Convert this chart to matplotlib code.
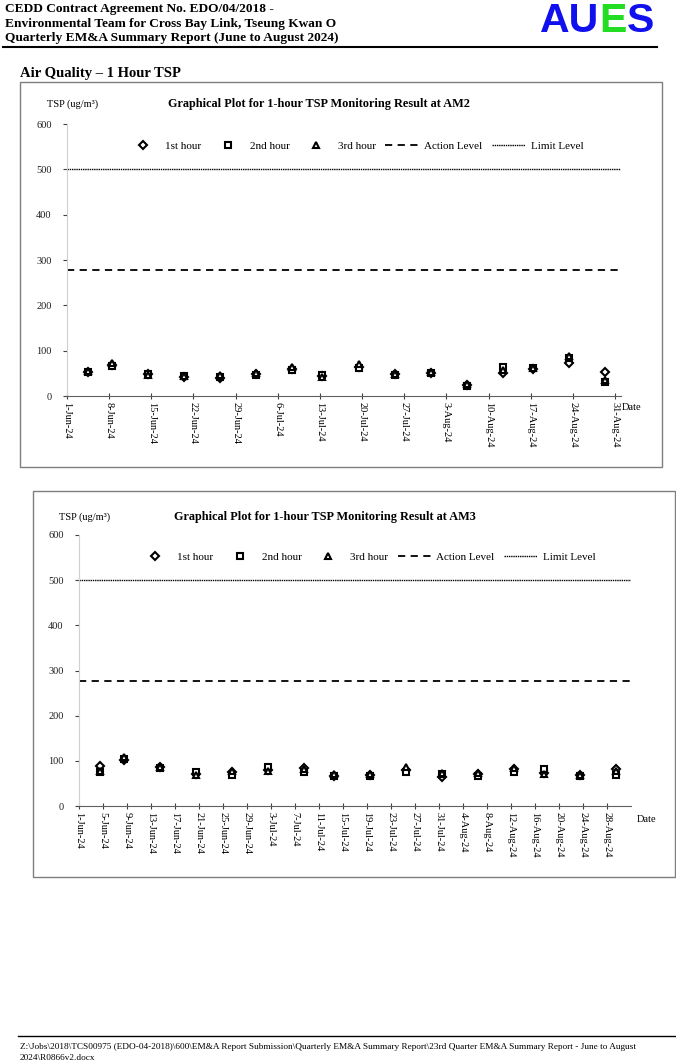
import matplotlib
matplotlib.use("Agg")
import matplotlib.pyplot as plt
import pandas as pd
from matplotlib.patches import Rectangle
from matplotlib.lines import Line2D

plt.rcParams['font.family'] = ['Liberation Serif', 'DejaVu Serif']

# sampling dates (same for both stations)
dates = pd.to_datetime([
    "2024-06-04 10:00", "2024-06-08 10:00", "2024-06-14 10:00", "2024-06-20 10:00",
    "2024-06-26 10:00", "2024-07-02 10:00", "2024-07-08 10:00", "2024-07-13 10:00",
    "2024-07-19 10:00", "2024-07-25 10:00", "2024-07-31 10:00", "2024-08-06 10:00",
    "2024-08-12 10:00", "2024-08-17 10:00", "2024-08-23 10:00", "2024-08-29 10:00"])

am2_1st = [54, 68, 48, 42, 40, 48, 60, 45, 65, 48, 50, 24, 50, 60, 72, 52]
am2_2nd = [53, 67, 49, 45, 43, 47, 57, 47, 61, 47, 50, 23, 65, 61, 83, 31]
am2_3rd = [56, 72, 47, 44, 46, 50, 63, 42, 70, 48, 52, 26, 57, 61, 88, 36]

am3_1st = [88, 102, 86, 70, 76, 80, 84, 67, 68, 80, 65, 70, 82, 72, 68, 82]
am3_2nd = [75, 105, 85, 76, 68, 86, 76, 66, 66, 75, 70, 66, 76, 82, 66, 68]
am3_3rd = [78, 108, 87, 69, 78, 78, 82, 70, 70, 87, 72, 72, 84, 70, 68, 78]

action_level = 277
limit_level = 500

start = pd.Timestamp("2024-06-01")
end = pd.Timestamp("2024-09-01")


def draw_chart(ax, s1, s2, s3, title, step, tx, ty, lx, dx, dy):
    ms = 4.5
    kw = dict(linestyle='none', markerfacecolor='white', markeredgecolor='black',
              markeredgewidth=1.5, clip_on=False)
    ax.plot(dates, s1, marker='D', markersize=ms - 0.7, label='1st hour', **kw)
    ax.plot(dates, s2, marker='s', markersize=ms, label='2nd hour', **kw)
    ax.plot(dates, s3, marker='^', markersize=ms, label='3rd hour', **kw)
    ax.axhline(action_level, color='black', lw=1.3, ls=(0, (4, 3)), label='Action Level')
    ax.axhline(limit_level, color='black', lw=1.0, ls=(0, (1, 0.6)), label='Limit Level')

    ax.set_ylim(0, 600)
    ax.set_yticks(range(0, 601, 100))
    ax.set_xlim(start, end)
    ticks = pd.date_range(start, "2024-08-31", freq=f"{step}D")
    ax.set_xticks(ticks)
    ax.set_xticklabels([f"{d.day}-{d:%b-%y}" for d in ticks], rotation=270,
                       va='top', ha='center', fontsize=7.5)
    ax.tick_params(axis='y', length=3, pad=8, labelsize=7.5, color='#404040',
                   labelcolor='#202020')
    ax.tick_params(axis='x', direction='inout', length=5, pad=2, color='#404040')

    for s in ['top', 'right']:
        ax.spines[s].set_visible(False)
    ax.spines['left'].set_color('#d0d0d0')
    ax.spines['bottom'].set_color('#606060')

    ax.text(-0.036, ty, "TSP (ug/m³)", transform=ax.transAxes, fontsize=7.5,
            ha='left', va='center')
    ax.text(tx, ty, title, transform=ax.transAxes, fontsize=8.8, fontweight='bold',
            ha='center', va='center')
    ax.text(dx, dy, "Date", transform=ax.transAxes, fontsize=7.5,
            ha='left', va='center')
    ax.legend(loc='center', bbox_to_anchor=(lx, 0.919), ncol=5, frameon=False,
              fontsize=8, numpoints=1, handlelength=3.0, handletextpad=0.5,
              columnspacing=0.85)


fig = plt.figure(figsize=(6.76, 10.64), dpi=100)

# page header
fig.text(5 / 676, 1 - 9 / 1064, "CEDD Contract Agreement No. EDO/04/2018 -",
         fontsize=9.6, fontweight='bold', va='center')
fig.text(5 / 676, 1 - 24 / 1064, "Environmental Team for Cross Bay Link, Tseung Kwan O",
         fontsize=9.6, fontweight='bold', va='center')
fig.text(5 / 676, 1 - 38 / 1064, "Quarterly EM&A Summary Report (June to August 2024)",
         fontsize=9.6, fontweight='bold', va='center')
logo_y = 1 - 21 / 1064
t = fig.text(540 / 676, logo_y, "AU", fontsize=29.5, fontweight='bold', color='#1010ee',
             family='Liberation Sans', va='center')
fig.canvas.draw()
bb = t.get_window_extent()
t2 = fig.text(bb.x1 / 676, logo_y, "E", fontsize=29.5, fontweight='bold', color='#22dd22',
              family='Liberation Sans', va='center')
bb2 = t2.get_window_extent()
fig.text(bb2.x1 / 676, logo_y, "S", fontsize=29.5, fontweight='bold', color='#1010ee',
         family='Liberation Sans', va='center')
fig.add_artist(Line2D([3 / 676, 657 / 676], [1 - 47 / 1064] * 2, color='black', lw=1.5))

fig.text(20 / 676, 1 - 74 / 1064, "Air Quality – 1 Hour TSP", fontsize=10.5,
         fontweight='bold', va='center')

# chart frames
fig.add_artist(Rectangle((20 / 676, 1 - 467 / 1064), 642 / 676, 385 / 1064,
                         fill=False, edgecolor='#7f7f7f', lw=1))
fig.add_artist(Rectangle((33 / 676, 1 - 877 / 1064), 642 / 676, 386 / 1064,
                         fill=False, edgecolor='#7f7f7f', lw=1))

ax1 = fig.add_axes([67 / 676, 1 - 396 / 1064, 554 / 676, 272 / 1064])
draw_chart(ax1, am2_1st, am2_2nd, am2_3rd,
           "Graphical Plot for 1-hour TSP Monitoring Result at AM2",
           7, 0.455, 1.074, 0.52, 1.002, -0.044)

ax2 = fig.add_axes([79 / 676, 1 - 806 / 1064, 552 / 676, 271 / 1064])
draw_chart(ax2, am3_1st, am3_2nd, am3_3rd,
           "Graphical Plot for 1-hour TSP Monitoring Result at AM3",
           4, 0.446, 1.066, 0.522, 1.011, -0.048)

# page footer
fig.add_artist(Line2D([18 / 676, 676 / 676], [1 - 1036 / 1064] * 2, color='black', lw=1))
fig.text(20 / 676, 1 - 1047 / 1064,
         r"Z:\Jobs\2018\TCS00975 (EDO-04-2018)\600\EM&A Report Submission\Quarterly EM&A Summary Report\23rd Quarter EM&A Summary Report - June to August",
         fontsize=6.7, va='center')
fig.text(20 / 676, 1 - 1058 / 1064, r"2024\R0866v2.docx", fontsize=6.7, va='center')

fig.savefig("out.png", dpi=100)
